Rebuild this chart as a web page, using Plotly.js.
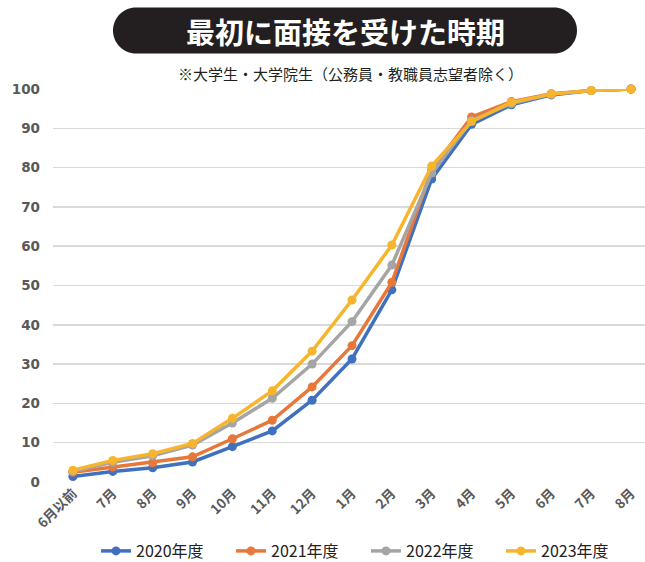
<!DOCTYPE html>
<html>
<head>
<meta charset="utf-8">
<script src="https://cdn.plot.ly/plotly-3.0.1.min.js"></script>
<style>html,body{margin:0;padding:0;background:#fff;}#chart{width:645px;height:562px;}</style>
</head>
<body>
<div id="chart"></div>
<script>
const categories = ['6月以前','7月','8月','9月','10月','11月','12月','1月','2月','3月','4月','5月','6月','7月','8月'];
const seriesNames = ['2020年度','2021年度','2022年度','2023年度'];
const values2020 = [1.4, 2.7, 3.6, 5.1, 9.0, 13.0, 20.8, 31.3, 48.9, 77.1, 91.0, 96.0, 98.5, 99.6, 100];
const values2021 = [2.5, 3.8, 4.9, 6.4, 11.0, 15.7, 24.2, 34.7, 50.8, 79.5, 92.9, 96.8, 98.8, 99.6, 100];
const values2022 = [2.7, 5.0, 6.7, 9.4, 15.0, 21.3, 30.0, 40.8, 55.2, 78.6, 92.0, 96.3, 98.7, 99.6, 100];
const values2023 = [3.0, 5.5, 7.2, 9.8, 16.2, 23.2, 33.3, 46.3, 60.3, 80.4, 91.7, 96.6, 98.7, 99.6, 100];
const yTicks = [0,10,20,30,40,50,60,70,80,90,100];
const titleText = '最初に面接を受けた時期';
const subtitleText = '※大学生・大学院生（公務員・教職員志望者除く）';

const colors = ['#4071BF', '#E8773A', '#A5A5A5', '#F6B52D'];
const allValues = [values2020, values2021, values2022, values2023];
const xIdx = categories.map((c, i) => i);

const traces = allValues.map((v, k) => ({
  type: 'scatter',
  mode: 'lines+markers',
  x: xIdx,
  y: v,
  name: seriesNames[k],
  line: {color: colors[k], width: 3.5},
  marker: {color: colors[k], size: 9},
  cliponaxis: false
}));

const L = 53, R = 645, T = 89.3, B = 481.7;
const px2x = p => (p - L) / (R - L);
const py2y = p => (B - p) / (B - T);

const layout = {
  width: 645, height: 562,
  margin: {l: L, r: 645 - R, t: T, b: 562 - B},
  paper_bgcolor: '#fff', plot_bgcolor: '#fff',
  font: {family: '"Noto Sans CJK JP", "Noto Sans", sans-serif'},
  showlegend: true,
  legend: {
    orientation: 'h', xref: 'container', yref: 'container',
    x: 96/645, xanchor: 'left', y: 1 - 551/562, yanchor: 'middle',
    font: {size: 16, color: '#222'},
    itemwidth: 30, entrywidth: 90, tracegroupgap: 0
  },
  xaxis: {
    range: [-0.5, 14.35],
    tickmode: 'array', tickvals: xIdx, ticktext: categories,
    tickangle: -45,
    tickfont: {size: 13.5, color: '#595959', weight: 'bold'},
    showgrid: false, zeroline: false, showline: false, ticks: ''
  },
  yaxis: {
    range: [0, 100],
    tickmode: 'array', tickvals: yTicks, ticktext: yTicks.map(String),
    tickfont: {size: 13.5, color: '#595959', weight: 'bold', family: '"DejaVu Sans", Verdana, sans-serif'},
    gridcolor: '#D9D9D9', gridwidth: 1.5,
    zeroline: false, showline: false, ticks: '',
    ticklabelstandoff: 12
  },
  shapes: [{
    type: 'path', xref: 'paper', yref: 'paper',
    xsizemode: 'pixel', ysizemode: 'pixel',
    xanchor: px2x(345), yanchor: py2y(31),
    path: 'M -209,-23 L 209,-23 C 221.7,-23 232,-12.7 232,0 C 232,12.7 221.7,23 209,23 L -209,23 C -221.7,23 -232,12.7 -232,0 C -232,-12.7 -221.7,-23 -209,-23 Z',
    fillcolor: '#231F20', line: {width: 0}
  }],
  annotations: [
    {
      text: titleText, xref: 'paper', yref: 'paper',
      x: px2x(345), y: py2y(31), xanchor: 'center', yanchor: 'middle',
      showarrow: false,
      font: {size: 29, color: '#fff', weight: 'bold', family: '"Noto Sans CJK JP", sans-serif'}
    },
    {
      text: subtitleText, xref: 'paper', yref: 'paper',
      x: px2x(350), y: py2y(74), xanchor: 'center', yanchor: 'middle',
      showarrow: false,
      font: {size: 15, color: '#231F20', family: '"Noto Sans CJK JP", sans-serif'}
    }
  ]
};

Plotly.newPlot('chart', traces, layout, {staticPlot: true, displayModeBar: false});
</script>
</body>
</html>
